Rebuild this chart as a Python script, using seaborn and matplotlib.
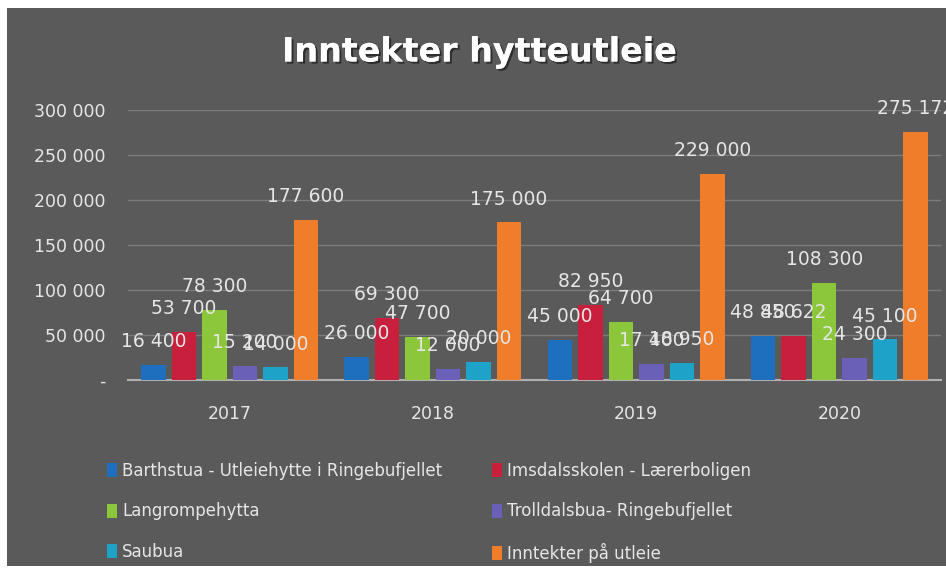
import seaborn as sns
import pandas as pd
import matplotlib.pyplot as plt
from matplotlib.patches import Rectangle, Patch
import matplotlib.patheffects as pe

years = ["2017", "2018", "2019", "2020"]
series = [
    "Barthstua - Utleiehytte i Ringebufjellet",
    "Imsdalsskolen - Lærerboligen",
    "Langrompehytta",
    "Trolldalsbua- Ringebufjellet",
    "Saubua",
    "Inntekter på utleie",
]
barthstua = [16400, 26000, 45000, 48850]
imsdal = [53700, 69300, 82950, 48622]
langrompe = [78300, 47700, 64700, 108300]
trolldal = [15200, 12000, 17400, 24300]
saubua = [14000, 20000, 18950, 45100]
inntekter = [177600, 175000, 229000, 275172]
colors = ["#1f6fbf", "#c8203c", "#8cc63a", "#6a60b8", "#1ea2c8", "#f07d2a"]
yticks = [0, 50000, 100000, 150000, 200000, 250000, 300000]
ytick_labels = ["-", "50 000", "100 000", "150 000", "200 000", "250 000", "300 000"]

values = [barthstua, imsdal, langrompe, trolldal, saubua, inntekter]
rows = []
for name, vals in zip(series, values):
    for y, v in zip(years, vals):
        rows.append({"År": y, "Serie": name, "Beløp": v})
df = pd.DataFrame(rows)

sns.set_style("white")
plt.rcParams["font.family"] = ["DejaVu Sans"]
txt = "#e6e6e6"

fig = plt.figure(figsize=(9.46, 5.73), dpi=100)
fig.patch.set_facecolor("white")
fig.patches.append(Rectangle((7 / 946, 7 / 573), 1, 1 - 15 / 573, transform=fig.transFigure,
                             facecolor="#5a5a5a", edgecolor="none", zorder=-10))

ax = fig.add_axes([128 / 946, 193 / 573, 813 / 946, 270 / 573])
ax.set_zorder(1)
ax.set_facecolor("none")
sns.barplot(data=df, x="År", y="Beløp", hue="Serie", order=years, hue_order=series,
            palette=colors, width=0.9, gap=0.2, saturation=1, linewidth=0,
            edgecolor="none", ax=ax, legend=False, zorder=3)

ax.set_ylim(0, 300000)
ax.set_yticks(yticks)
ax.set_yticklabels(ytick_labels)
ax.tick_params(axis="y", colors=txt, labelsize=12.5, length=0, pad=16.5)
ax.tick_params(axis="x", colors=txt, labelsize=12.5, length=0, pad=18)
ax.grid(axis="y", color="#7c7c7c", linewidth=1, zorder=0)
for s in ["top", "right", "left"]:
    ax.spines[s].set_visible(False)
ax.spines["bottom"].set_color("#b0b0b0")
ax.spines["bottom"].set_linewidth(1.5)
ax.set_xlabel("")
ax.set_ylabel("")

for cont, vals in zip(ax.containers, values):
    ax.bar_label(cont, labels=[f"{v:,}".replace(",", " ") for v in vals],
                 padding=10, color=txt, fontsize=13.5, clip_on=False)

fig.text(0.507, 1 - 52 / 573, "Inntekter hytteutleie", ha="center", va="center",
         fontsize=24, fontweight="bold", color="white",
         path_effects=[pe.withSimplePatchShadow(offset=(1.5, -1.5), shadow_rgbFace="#222222", alpha=0.8), pe.Normal()])

handles = [Patch(facecolor=c, edgecolor="none", label=s) for c, s in zip(colors, series)]
order = [0, 2, 4, 1, 3, 5]
fig.legend([handles[i] for i in order], [series[i] for i in order], ncol=2,
           loc="upper left", bbox_to_anchor=(92 / 946, 1 - 447 / 573), frameon=False,
           fontsize=12, labelcolor=txt, handlelength=0.6, handleheight=0.9,
           handletextpad=0.3, columnspacing=3.0, labelspacing=1.35)

fig.savefig("out.png", dpi=100)
